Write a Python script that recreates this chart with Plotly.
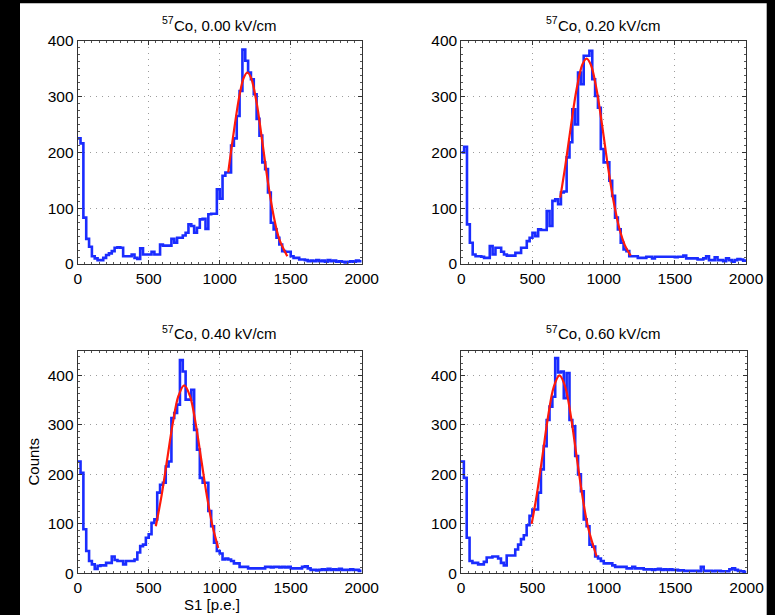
import plotly.graph_objects as go

# ---------------- data ----------------
bin_width = 20
bin_left = list(range(0, 2000, bin_width))

field_labels = ["0.00", "0.20", "0.40", "0.60"]
isotope_mass = "57"

counts_000 = [225, 216, 83, 45, 31, 14, 10, 7, 7, 11,
              16, 19, 23, 29, 30, 29, 14, 14, 14, 17,
              11, 9, 28, 17, 17, 17, 22, 17, 17, 35,
              33, 33, 33, 45, 38, 47, 47, 51, 56, 71,
              68, 56, 65, 80, 81, 63, 89, 90, 90, 134,
              117, 158, 164, 164, 212, 225, 265, 310, 384, 364,
              343, 331, 304, 260, 230, 182, 170, 128, 74, 62,
              47, 35, 23, 22, 22, 14, 11, 11, 8, 8,
              7, 5, 6, 5, 7, 5, 6, 4, 7, 5,
              6, 4, 5, 4, 3, 4, 5, 4, 6, 5]

counts_020 = [200, 210, 71, 38, 17, 14, 14, 13, 11, 11,
              32, 17, 29, 29, 22, 17, 15, 15, 15, 20,
              20, 29, 29, 41, 47, 56, 50, 62, 61, 61,
              95, 68, 113, 116, 107, 128, 130, 191, 218, 277,
              250, 343, 322, 373, 373, 382, 331, 301, 280, 206,
              182, 182, 149, 122, 83, 62, 38, 26, 23, 14,
              14, 14, 11, 11, 11, 13, 13, 10, 13, 13,
              13, 13, 13, 13, 13, 12, 13, 13, 15, 10,
              10, 10, 10, 8, 8, 10, 14, 7, 7, 12,
              7, 7, 5, 10, 7, 4, 7, 9, 8, 6]

counts_040 = [226, 203, 89, 45, 25, 18, 9, 15, 16, 16,
              21, 21, 34, 27, 25, 25, 18, 25, 25, 25,
              28, 42, 55, 58, 72, 79, 102, 109, 163, 179,
              183, 216, 226, 314, 324, 341, 431, 408, 351, 351,
              371, 290, 250, 193, 183, 183, 126, 95, 62, 45,
              40, 28, 30, 28, 25, 20, 20, 13, 13, 13,
              10, 10, 10, 10, 10, 10, 13, 13, 12, 13,
              13, 12, 13, 12, 13, 10, 10, 10, 10, 13,
              14, 10, 7, 7, 6, 7, 8, 7, 9, 7,
              8, 7, 9, 7, 7, 7, 8, 7, 7, 5]

counts_060 = [226, 193, 72, 25, 21, 21, 18, 18, 23, 32,
              32, 34, 34, 30, 21, 16, 36, 36, 36, 48,
              58, 69, 77, 97, 116, 129, 129, 163, 210, 257,
              310, 337, 357, 435, 406, 408, 354, 405, 310, 297,
              237, 200, 166, 109, 95, 58, 54, 34, 30, 25,
              20, 20, 20, 16, 13, 13, 13, 13, 10, 10,
              13, 10, 10, 10, 8, 8, 8, 7, 8, 9,
              7, 8, 7, 8, 7, 7, 6, 6, 5, 5,
              5, 5, 5, 4, 13, 5, 5, 5, 4, 5,
              5, 4, 4, 4, 8, 10, 7, 5, 4, 3]

# red fitted curves
fit_x_000 = [1060, 1100, 1140, 1170, 1195, 1220, 1260, 1300, 1340, 1380, 1420, 1476]
fit_y_000 = [164, 238, 303, 334, 343, 334, 289, 219, 146, 86, 44, 14]

fit_x_020 = [695, 730, 770, 810, 850, 880, 910, 950, 990, 1030, 1070, 1110, 1150, 1190]
fit_y_020 = [119, 175, 247, 313, 357, 368, 357, 313, 247, 175, 112, 64, 33, 15]

fit_x_040 = [550, 590, 630, 670, 710, 750, 790, 830, 870, 910, 950, 990]
fit_y_040 = [95, 156, 230, 304, 359, 380, 359, 304, 230, 156, 95, 51]

fit_x_060 = [495, 530, 570, 610, 650, 690, 730, 770, 810, 850, 890, 950]
fit_y_060 = [100, 157, 236, 317, 377, 400, 377, 317, 236, 157, 93, 34]

x_ticks = [0, 500, 1000, 1500, 2000]
y_ticks = [0, 100, 200, 300, 400]
y_tops = [400, 400, 450, 450]

# ---------------- layout helpers ----------------
W, H = 775, 615
FONT = "Liberation Sans, Arial, Helvetica, sans-serif"
TXT = "#000000"
TITLE_SIZE = 15
SUP_SIZE = 10.5


def fx(p):
    return p / W


def fy(p):
    return 1 - p / H


# panel boxes in pixels: (left, right, top, bottom)
boxes = [(77.7, 361.7, 40.7, 264.0),
         (461.3, 746.0, 40.7, 264.0),
         (77.7, 361.7, 350.7, 573.3),
         (461.0, 746.5, 350.7, 573.3)]

counts_all = [counts_000, counts_020, counts_040, counts_060]
fits_all = [(fit_x_000, fit_y_000), (fit_x_020, fit_y_020),
            (fit_x_040, fit_y_040), (fit_x_060, fit_y_060)]

fig = go.Figure()
layout = dict(
    width=W, height=H,
    margin=dict(l=0, r=0, t=0, b=0, pad=0, autoexpand=False),
    paper_bgcolor="black",
    plot_bgcolor="white",
    showlegend=False,
    font=dict(family=FONT, size=15, color=TXT),
    shapes=[dict(type="rect", xref="paper", yref="paper",
                 x0=fx(20), x1=fx(766.7), y0=0, y1=fy(3.3),
                 fillcolor="white", line=dict(width=0), layer="below")],
    annotations=[],
)

# approximate widths (Arial metrics) used to centre the composite title
main_w = 6.84 * TITLE_SIZE
sup_w = 1.112 * SUP_SIZE

for i in range(4):
    n = i + 1
    xa = "x" if n == 1 else f"x{n}"
    ya = "y" if n == 1 else f"y{n}"
    l, r, t, b = boxes[i]
    vals = counts_all[i]
    xs = bin_left + [bin_left[-1] + bin_width]
    ys = vals + [vals[-1]]
    fig.add_trace(go.Scatter(x=xs, y=ys, mode="lines", xaxis=xa, yaxis=ya,
                             line=dict(color="#1a2cff", width=2.6, shape="hv")))
    fxv, fyv = fits_all[i]
    fig.add_trace(go.Scatter(x=fxv, y=fyv, mode="lines", xaxis=xa, yaxis=ya,
                             line=dict(color="#ff1a0a", width=2.2,
                                       shape="spline", smoothing=1.0)))

    axis_common = dict(showline=True, linecolor="#333333", linewidth=1,
                       mirror="ticks", ticks="inside", ticklen=4,
                       tickcolor="#333333", showgrid=True, gridcolor="#9c9c9c",
                       griddash="1px,5px", gridwidth=1, zeroline=False,
                       automargin=False,
                       tickfont=dict(family=FONT, size=15.5, color=TXT))
    layout["xaxis" if n == 1 else f"xaxis{n}"] = dict(
        axis_common, domain=[fx(l), fx(r)], range=[0, 2000],
        tickvals=x_ticks, ticktext=[str(v) for v in x_ticks],
        anchor=ya,
        minor=dict(dtick=50, ticks="inside", ticklen=2, tickcolor="#555555",
                   showgrid=False))
    layout["yaxis" if n == 1 else f"yaxis{n}"] = dict(
        axis_common, domain=[fy(b), fy(t)], range=[0, y_tops[i]],
        tickvals=y_ticks, ticktext=[str(v) for v in y_ticks],
        anchor=xa,
        minor=dict(dtick=12.5, ticks="inside", ticklen=2, tickcolor="#555555",
                   showgrid=False))

    title_y = 25 if i < 2 else 333
    centre = (l + r) / 2
    join_x = centre - (main_w + sup_w) / 2 + sup_w
    layout["annotations"].append(dict(
        text=isotope_mass, xref="paper", yref="paper",
        x=fx(join_x), y=fy(title_y - 4.5),
        xanchor="right", yanchor="middle", showarrow=False,
        borderpad=0, borderwidth=0,
        font=dict(family=FONT, size=SUP_SIZE, color=TXT)))
    layout["annotations"].append(dict(
        text=f"Co, {field_labels[i]} kV/cm",
        xref="paper", yref="paper", x=fx(join_x), y=fy(title_y),
        xanchor="left", yanchor="middle", showarrow=False,
        borderpad=0, borderwidth=0,
        font=dict(family=FONT, size=TITLE_SIZE, color=TXT)))

layout["annotations"].append(dict(
    text="Counts", xref="paper", yref="paper", x=fx(32.5), y=fy(462),
    xanchor="center", yanchor="middle", textangle=-90, showarrow=False,
    font=dict(family=FONT, size=15, color=TXT)))
layout["annotations"].append(dict(
    text="S1 [p.e.]", xref="paper", yref="paper", x=fx(212), y=fy(604),
    xanchor="center", yanchor="middle", showarrow=False,
    font=dict(family=FONT, size=15, color=TXT)))

fig.update_layout(**layout)
fig.write_html("out.html")
